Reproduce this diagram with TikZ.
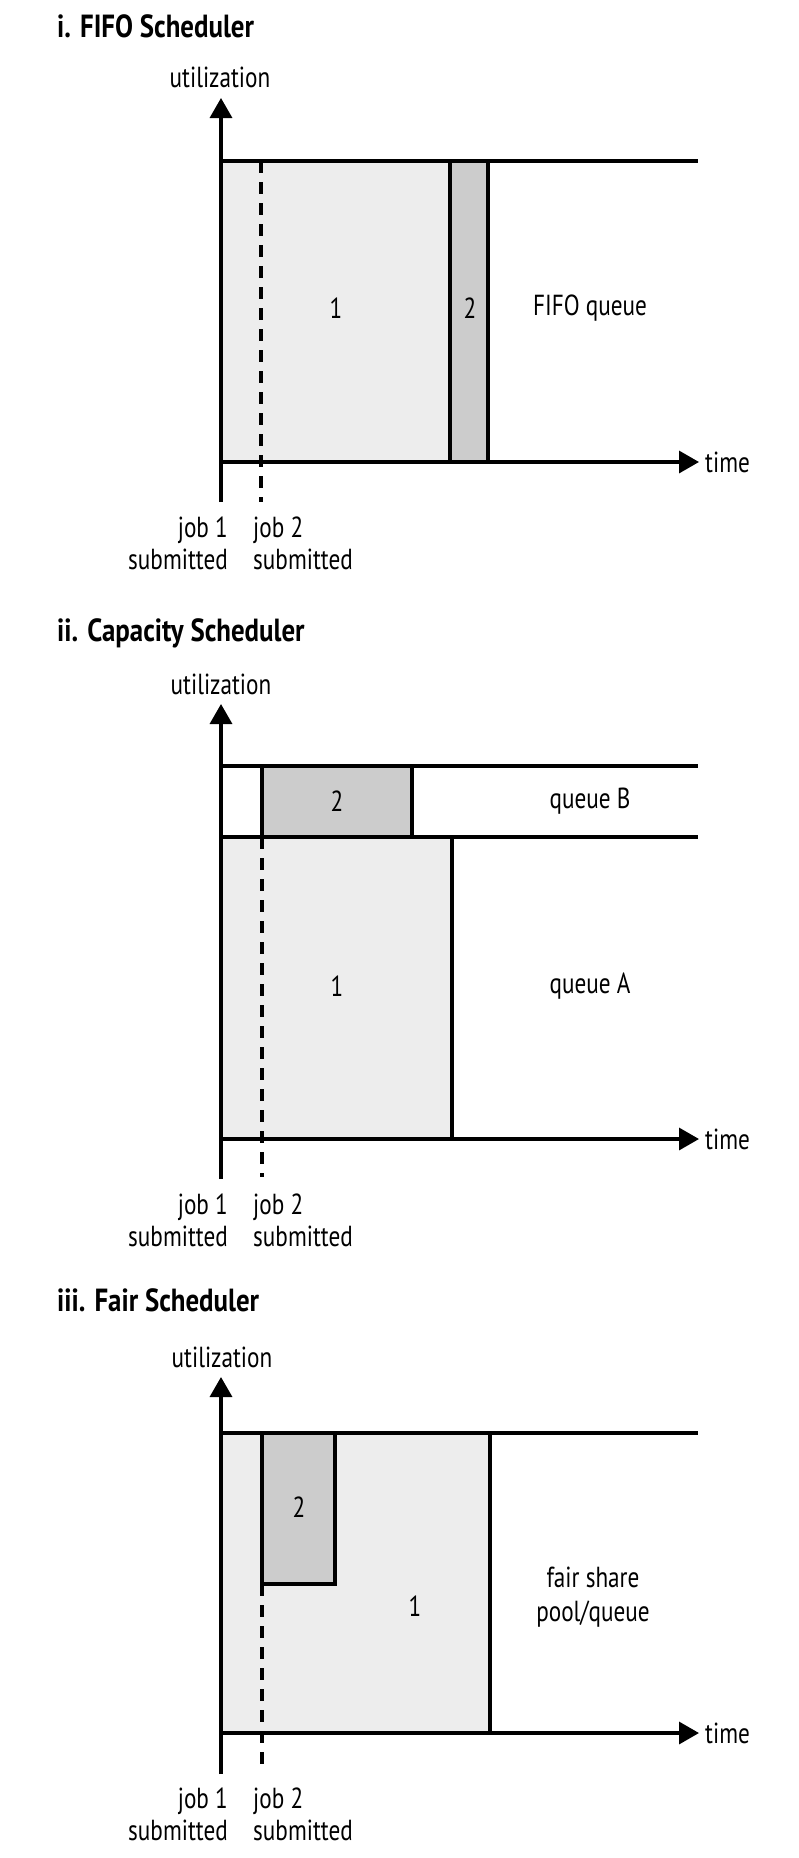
\documentclass[tikz,border=0pt]{standalone}
\usepackage{fontspec}
\setmainfont{PT Sans}[FakeStretch=0.80]
\newfontfamily\titlefont{PT Sans}[FakeStretch=0.84]
\usetikzlibrary{arrows.meta}
\definecolor{jobone}{gray}{0.93}
\definecolor{jobtwo}{gray}{0.80}
\begin{document}
\begin{tikzpicture}[x=1pt,y=-1pt,
  axisline/.style={line width=3.4pt,-{Triangle[length=20pt,width=22pt]}},
  frameline/.style={line width=3.4pt},
  submark/.style={line width=3.4pt,dash pattern=on 12pt off 9pt},
  lbl/.style={font=\fontsize{29}{34}\selectfont,inner sep=0pt},
  ttl/.style={font=\titlefont\bfseries\fontsize{32}{36}\selectfont,inner sep=0pt,anchor=base west}]
\useasboundingbox (0,0) rectangle (798,1858);
% ---------- panel i ----------
\node[ttl] (t1) at (57,37) {i. FIFO Scheduler};
\fill[jobone] (221,161) rectangle (450,462);
\fill[jobtwo] (450,161) rectangle (488,462);
\draw[frameline] (450,161) -- (450,462) (488,161) -- (488,462);
\draw[frameline] (221,161) -- (698,161);
\draw[submark] (261,161) -- (261,502);
\draw[axisline] (221,462) -- (699,462);
\draw[axisline] (221,502) -- (221,98);
\node[lbl,anchor=base] (u1) at (220,87) {utilization};
\node[lbl] (a1) at (336,308) {1};
\node[lbl] (b1) at (470,308) {2};
\node[lbl] (q1) at (590,308) {FIFO queue};
\node[lbl,anchor=west] (x1) at (705,462) {time};
\node[lbl,anchor=base east] (j1a) at (228,537) {job 1};
\node[lbl,anchor=base east] (j1b) at (228,569) {submitted};
\node[lbl,anchor=base west] (j2a) at (253,537) {job 2};
\node[lbl,anchor=base west] (j2b) at (253,569) {submitted};
% ---------- panel ii ----------
\node[ttl] (t2) at (57,641) {ii. Capacity Scheduler};
\fill[jobone] (221,837) rectangle (452,1139);
\filldraw[fill=jobtwo,frameline] (262,766) rectangle (412,837);
\draw[frameline] (452,837) -- (452,1139);
\draw[frameline] (221,766) -- (698,766);
\draw[frameline] (221,837) -- (698,837);
\draw[submark] (262,837) -- (262,1177);
\draw[axisline] (221,1139) -- (699,1139);
\draw[axisline] (221,1179) -- (221,704);
\node[lbl,anchor=base] (u2) at (221,694) {utilization};
\node[lbl] (a2) at (337,986) {1};
\node[lbl] (b2) at (337,801) {2};
\node[lbl] (qb) at (590,801) {queue B};
\node[lbl] (qa) at (590,986) {queue A};
\node[lbl,anchor=west] (x2) at (705,1139) {time};
\node[lbl,anchor=base east] (k1a) at (228,1214) {job 1};
\node[lbl,anchor=base east] (k1b) at (228,1246) {submitted};
\node[lbl,anchor=base west] (k2a) at (253,1214) {job 2};
\node[lbl,anchor=base west] (k2b) at (253,1246) {submitted};
% ---------- panel iii ----------
\node[ttl] (t3) at (57,1311) {iii. Fair Scheduler};
\fill[jobone] (221,1433) rectangle (490,1733);
\filldraw[fill=jobtwo,frameline] (262,1433) rectangle (335,1584);
\draw[frameline] (490,1433) -- (490,1733);
\draw[frameline] (221,1433) -- (698,1433);
\draw[submark] (262,1584) -- (262,1770);
\draw[axisline] (221,1733) -- (699,1733);
\draw[axisline] (221,1774) -- (221,1377);
\node[lbl,anchor=base] (u3) at (222,1367) {utilization};
\node[lbl] (a3) at (415,1606) {1};
\node[lbl] (b3) at (299,1507) {2};
\node[lbl,align=center] (fs) at (593,1597) {fair share\\pool/queue};
\node[lbl,anchor=west] (x3) at (705,1733) {time};
\node[lbl,anchor=base east] (m1a) at (228,1808) {job 1};
\node[lbl,anchor=base east] (m1b) at (228,1840) {submitted};
\node[lbl,anchor=base west] (m2a) at (253,1808) {job 2};
\node[lbl,anchor=base west] (m2b) at (253,1840) {submitted};
\end{tikzpicture}
\end{document}
